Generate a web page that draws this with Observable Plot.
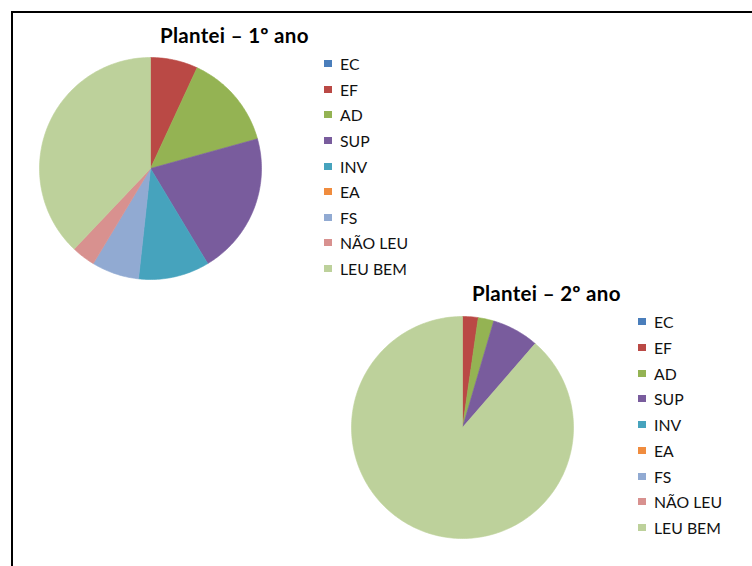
<!DOCTYPE html>
<html>
<head>
<meta charset="utf-8">
<script src="https://cdn.jsdelivr.net/npm/d3@7"></script>
<script src="https://cdn.jsdelivr.net/npm/@observablehq/plot@0.6"></script>
<style>
  html, body { margin: 0; padding: 0; background: #fff; overflow: hidden; width: 752px; height: 566px; }
  #frame { position: absolute; left: 11px; top: 11px; width: 800px; height: 620px; border-top: 2px solid #000; border-left: 2px solid #000; }
  .abs { position: absolute; }
  .title { font-family: Lato, "Open Sans", sans-serif; font-weight: bold; font-size: 20.5px; line-height: 20px; color: #000; white-space: nowrap; letter-spacing: 0.3px; }
  .row { position: absolute; height: 20px; display: flex; align-items: center; font-family: Lato, "Open Sans", sans-serif; font-size: 15.8px; color: #111; white-space: nowrap; }
  .sw { width: 8px; height: 7px; margin-right: 8px; flex: none; }
</style>
</head>
<body>
<div id="frame"></div>
<div id="root"></div>
<script>
// ---- data ----
const categories = ["EC", "EF", "AD", "SUP", "INV", "EA", "FS", "NÃO LEU", "LEU BEM"];
const colors = ["#4A7EBB", "#BA4945", "#94B353", "#795C9D", "#46A3BD", "#F08C3E", "#91AAD2", "#D8918F", "#BDD19B"];
const ano1 = [0, 2, 4, 6, 3, 0, 2, 1, 11];
const ano2 = [0, 1, 1, 3, 0, 0, 0, 0, 39];
const titles = ["Plantei – 1º ano", "Plantei – 2º ano"];

// ---- layout (pixels) ----
const panels = [
  { values: ano1, title: titles[0], cx: 149.7, cy: 167.5, r: 111, titleX: 160, titleBase: 42.5, legX: 324, legY: 63.7, legStep: 25.6 },
  { values: ano2, title: titles[1], cx: 462.4, cy: 426.5, r: 111, titleX: 472, titleBase: 300.5, legX: 638, legY: 321.7, legStep: 25.75 }
];

const root = document.getElementById("root");

function slicePoints(values) {
  const data = categories.map((c, i) => ({ key: c, value: values[i] }));
  const arcs = d3.pie().sort(null).value(d => d.value)(data);
  const pts = [];
  for (const a of arcs) {
    if (a.endAngle - a.startAngle <= 0) continue;
    const n = Math.max(2, Math.ceil((a.endAngle - a.startAngle) / (Math.PI / 180)));
    pts.push({ key: a.data.key, x: 0, y: 0 });
    for (let k = 0; k <= n; k++) {
      const t = a.startAngle + (a.endAngle - a.startAngle) * k / n;
      pts.push({ key: a.data.key, x: Math.sin(t), y: Math.cos(t) });
    }
    pts.push({ key: a.data.key, x: 0, y: 0 });
  }
  return pts;
}

for (const p of panels) {
  const size = 2 * p.r + 2;
  const svg = Plot.plot({
    width: size,
    height: size,
    margin: 1,
    x: { domain: [-1, 1], axis: null },
    y: { domain: [-1, 1], axis: null },
    color: { domain: categories, range: colors },
    style: { background: "transparent", overflow: "visible" },
    marks: [
      Plot.line(slicePoints(p.values), {
        x: "x", y: "y", z: "key", fill: "key", stroke: "key",
        strokeWidth: 0.6, curve: "linear"
      })
    ]
  });
  const wrap = document.createElement("div");
  wrap.className = "abs";
  wrap.style.left = (p.cx - size / 2) + "px";
  wrap.style.top = (p.cy - size / 2) + "px";
  wrap.appendChild(svg);
  root.appendChild(wrap);

  const t = document.createElement("div");
  t.className = "abs title";
  t.textContent = p.title;
  t.style.left = p.titleX + "px";
  t.style.top = (p.titleBase - 17.6) + "px";
  root.appendChild(t);

  categories.forEach((c, i) => {
    const row = document.createElement("div");
    row.className = "row";
    row.style.left = p.legX + "px";
    row.style.top = (p.legY + i * p.legStep - 10) + "px";
    const sw = document.createElement("div");
    sw.className = "sw";
    sw.style.background = colors[i];
    const lab = document.createElement("span");
    lab.textContent = c;
    row.appendChild(sw);
    row.appendChild(lab);
    root.appendChild(row);
  });
}
</script>
</body>
</html>
